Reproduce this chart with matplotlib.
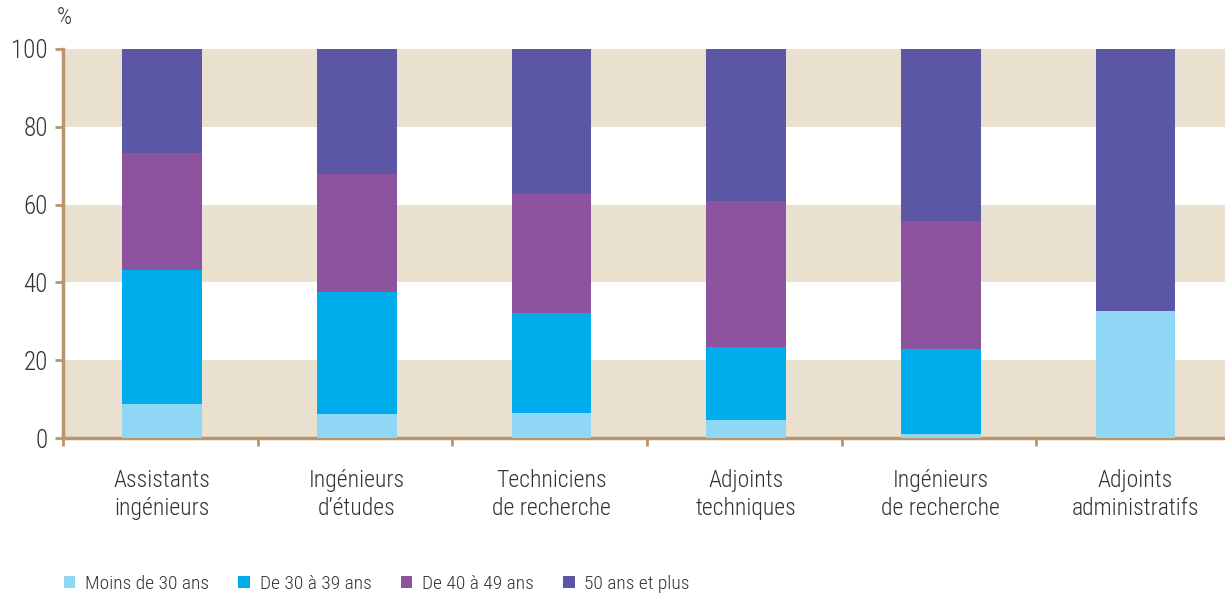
import matplotlib
matplotlib.use("Agg")
import matplotlib.pyplot as plt
from matplotlib.patches import Patch
import numpy as np

# age structure by staff category (%)
categories = ["Assistants\ningénieurs", "Ingénieurs\nd\u2019études", "Techniciens\nde recherche",
              "Adjoints\ntechniques", "Ingénieurs\nde recherche", "Adjoints\nadministratifs"]
moins_30 = [8.7, 6.2, 6.4, 4.6, 1.0, 32.6]
de_30_39 = [34.5, 31.3, 25.7, 18.8, 21.8, 0.0]
de_40_49 = [30.1, 30.4, 30.6, 37.5, 33.1, 0.0]
plus_50 = [26.7, 32.1, 37.3, 39.1, 44.1, 67.4]

series = [("Moins de 30 ans", moins_30, "#8FD7F5"),
          ("De 30 à 39 ans", de_30_39, "#00ADEC"),
          ("De 40 à 49 ans", de_40_49, "#8E539F"),
          ("50 ans et plus", plus_50, "#5B57A4")]

plt.rcParams['font.family'] = ['Roboto Condensed', 'Liberation Sans Narrow', 'Roboto', 'DejaVu Sans']
plt.rcParams['font.stretch'] = 'condensed'
plt.rcParams['font.weight'] = 'light'
text_col = "#333333"
axis_col = "#B8956A"

fig = plt.figure(figsize=(12.25, 5.94), dpi=100)
ax = fig.add_axes([63 / 1225, 156 / 594, 1 - 63 / 1225, 389 / 594])

x = np.arange(len(categories))
bottom = np.zeros(len(categories))
for name, vals, col in series:
    ax.bar(x + 0.01, vals, width=0.41, bottom=bottom, color=col, label=name, zorder=3)
    bottom += np.array(vals)

# alternating beige bands
for lo in (0, 40, 80):
    ax.axhspan(lo, lo + 20, color="#EAE0CF", lw=0, zorder=0)

ax.set_xlim(-0.5, 5.47)
ax.set_ylim(0, 100)
ax.set_yticks([0, 20, 40, 60, 80, 100])
ax.tick_params(axis="y", colors=axis_col, length=6, width=2, labelcolor=text_col,
               labelsize=18, pad=5)

ax.set_xticks(np.arange(-0.5, 5.5, 1.0))
ax.set_xticklabels([])
ax.tick_params(axis="x", colors=axis_col, length=6, width=2)
for xi, lab in zip(x, categories):
    ax.text(xi + 0.01, -8, lab, ha="center", va="top", fontsize=17, color=text_col,
            linespacing=1.25, transform=ax.transData)

for side in ("top", "right"):
    ax.spines[side].set_visible(False)
for side in ("left", "bottom"):
    ax.spines[side].set_color(axis_col)
    ax.spines[side].set_linewidth(2.5)

fig.text(57 / 1225, 1 - 18 / 594, "%", fontsize=17, color=text_col, va="center")

handles = [Patch(facecolor=c, label=n) for n, _, c in series]
fig.legend(handles=handles, loc="center left", bbox_to_anchor=(46 / 1225, 1 - 584 / 594),
           ncol=4, frameon=False, fontsize=14, handlelength=0.6, handleheight=0.6,
           handletextpad=0.5, columnspacing=1.5, labelcolor=text_col)

fig.savefig("out.png", dpi=100)
